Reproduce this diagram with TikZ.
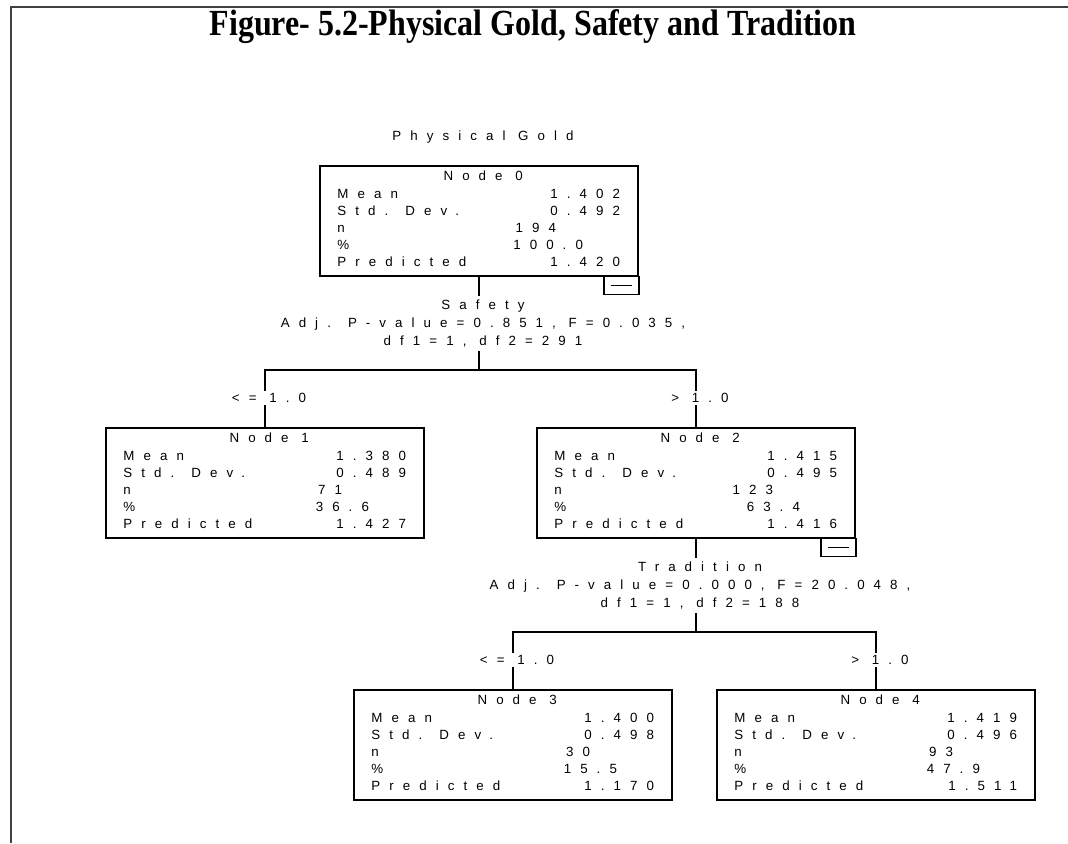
\documentclass[tikz,border=0pt]{standalone}
\usepackage{fontspec}
\setmainfont{Liberation Serif}
\newfontfamily\spssfont[LetterSpace=68]{Liberation Sans}
\usetikzlibrary{calc}

\newcommand{\statbox}[9]{%
  \node[treebox, anchor=north] (#1) at (#2,#3) {};
  \node[cell, anchor=mid] (#1t) at ($(#1.north west)+(164,12)$) {Node #4};
  \node[cell, anchor=mid west] (#1a) at ($(#1.north west)+(18,30)$) {Mean};
  \node[cell, anchor=mid east] (#1b) at ($(#1.north west)+(301,30)$) {#5};
  \node[cell, anchor=mid west] (#1c) at ($(#1.north west)+(18,47)$) {Std. Dev.};
  \node[cell, anchor=mid east] (#1d) at ($(#1.north west)+(301,47)$) {#6};
  \node[cell, anchor=mid west] (#1e) at ($(#1.north west)+(18,64)$) {n};
  \node[cell, anchor=mid east] (#1f) at ($(#1.north west)+(237,64)$) {#7};
  \node[cell, anchor=mid west] (#1g) at ($(#1.north west)+(18,81)$) {\%};
  \node[cell, anchor=mid east] (#1h) at ($(#1.north west)+(264,81)$) {#8};
  \node[cell, anchor=mid west] (#1i) at ($(#1.north west)+(18,98)$) {Predicted};
  \node[cell, anchor=mid east] (#1j) at ($(#1.north west)+(301,98)$) {#9};
}
\newcommand{\collapsebox}[1]{%
  \draw[boxline] ($(#1.south east)+(-35,0)$) rectangle ($(#1.south east)+(0,18)$);
  \draw[line width=0.8pt] ($(#1.south east)+(-28,9)$) -- ($(#1.south east)+(-7,9)$);
}

\begin{document}
\begin{tikzpicture}[x=0.75pt, y=-0.75pt,
    boxline/.style={draw, line width=1.2pt},
    treebox/.style={boxline, minimum width=238.5pt, minimum height=82.5pt, inner sep=0pt},
    cell/.style={font=\spssfont\fontsize{10}{13.3}\selectfont, inner sep=0pt},
    split/.style={cell, align=center, inner sep=3pt},
    cond/.style={cell, fill=white, inner xsep=0pt, inner ysep=2pt},
    wire/.style={line width=1.2pt},
    frame/.style={line width=1.5pt, black!75}]
  \useasboundingbox (0,0) rectangle (1068,843);
  \draw[frame] (10,7) -- (1068,7);
  \draw[frame] (11,7) -- (11,843);
  \node[font=\bfseries\fontsize{24}{28}\selectfont, inner sep=0pt, yscale=1.15] (title) at (533,27) {Figure- 5.2-Physical Gold, Safety and Tradition};
  \node[cell, anchor=mid] (root) at (483,137) {Physical Gold};

  \statbox{n0}{479}{165}{0}{1.402}{0.492}{194}{100.0}{1.420}
  \collapsebox{n0}
  \node[split, anchor=north] (s0) at (483,296) {Safety\\Adj. P-value=0.851, F=0.035,\\df1=1, df2=291};
  \coordinate (j0) at (479,370);

  \statbox{n1}{265}{427}{1}{1.380}{0.489}{71}{36.6}{1.427}
  \statbox{n2}{696}{427}{2}{1.415}{0.495}{123}{63.4}{1.416}
  \collapsebox{n2}
  \node[split, anchor=north] (s2) at (700,558) {Tradition\\Adj. P-value=0.000, F=20.048,\\df1=1, df2=188};
  \coordinate (j2) at (696,632);

  \statbox{n3}{513}{689}{3}{1.400}{0.498}{30}{15.5}{1.170}
  \statbox{n4}{876}{689}{4}{1.419}{0.496}{93}{47.9}{1.511}

  \draw[wire] (n0.south) -- (s0.north -| n0.south);
  \draw[wire] (s0.south -| n0.south) -- (j0);
  \draw[wire] (n1.north) |- (j0) -| (n2.north);
  \draw[wire] (n2.south) -- (s2.north -| n2.south);
  \draw[wire] (s2.south -| n2.south) -- (j2);
  \draw[wire] (n3.north) |- (j2) -| (n4.north);

  \node[cond] (c1) at ($(n1.north)+(4,-29)$) {<= 1.0};
  \node[cond] (c2) at ($(n2.north)+(4,-29)$) {> 1.0};
  \node[cond] (c3) at ($(n3.north)+(4,-29)$) {<= 1.0};
  \node[cond] (c4) at ($(n4.north)+(4,-29)$) {> 1.0};
\end{tikzpicture}
\end{document}
